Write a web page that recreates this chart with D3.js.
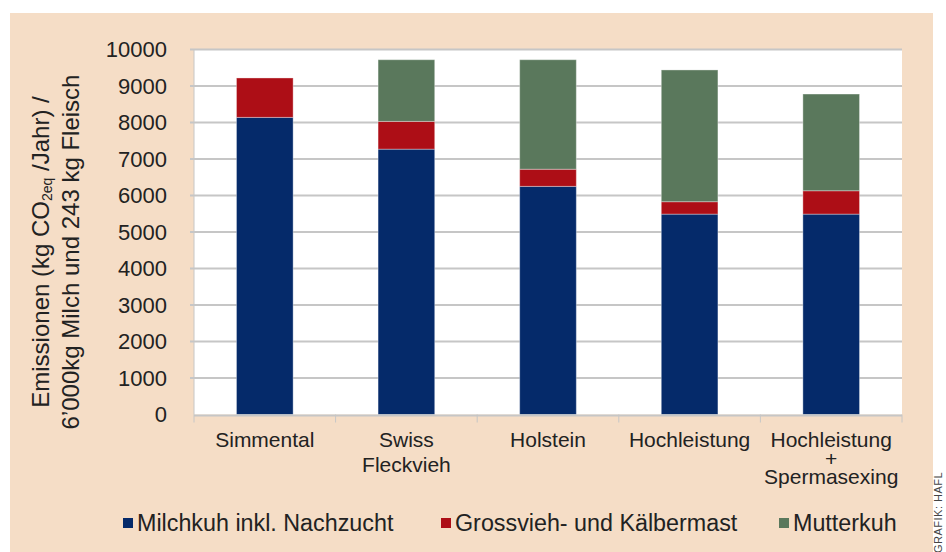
<!DOCTYPE html>
<html>
<head>
<meta charset="utf-8">
<script src="https://cdn.jsdelivr.net/npm/d3@7"></script>
<style>
  body { margin: 0; background: #fff; }
  svg { display: block; font-family: "Liberation Sans", Arial, sans-serif; }
</style>
</head>
<body>
<script>
// data
var categories = ["Simmental", "Swiss Fleckvieh", "Holstein", "Hochleistung", "Hochleistung + Spermasexing"];
var categoryLines = [["Simmental"], ["Swiss", "Fleckvieh"], ["Holstein"], ["Hochleistung"], ["Hochleistung", "+", "Spermasexing"]];
var seriesNames = ["Milchkuh inkl. Nachzucht", "Grossvieh- und Kälbermast", "Mutterkuh"];
var milchkuh = [8140, 7270, 6250, 5490, 5490];
var grossvieh = [1080, 760, 470, 340, 640];
var mutterkuh = [0, 1690, 3000, 3610, 2650];
var yTicks = [0, 1000, 2000, 3000, 4000, 5000, 6000, 7000, 8000, 9000, 10000];
var colors = ["#052a6a", "#ad0e16", "#5a785c"];

var W = 946, H = 552;
var plot = { left: 194, right: 902, top: 49.5, bottom: 414.5 };

var svg = d3.select("body").append("svg").attr("width", W).attr("height", H);

// beige panel + white plot area
svg.append("rect").attr("x", 10).attr("y", 13).attr("width", 923).attr("height", H - 13).attr("fill", "#f5ddc6");
svg.append("rect").attr("x", plot.left).attr("y", plot.top).attr("width", plot.right - plot.left)
  .attr("height", plot.bottom - plot.top).attr("fill", "#fff");

var x = d3.scaleBand().domain(categories).range([plot.left, plot.right]).paddingInner(0.6).paddingOuter(0.3);
var xOuter = d3.scaleBand().domain(categories).range([plot.left, plot.right]);
var y = d3.scaleLinear().domain([0, 10000]).range([plot.bottom, plot.top]);

// gridlines
svg.append("g").selectAll("line").data(yTicks.filter(function(d){ return d > 0; })).join("line")
  .attr("x1", plot.left - 4).attr("x2", plot.right)
  .attr("y1", function(d){ return y(d); }).attr("y2", function(d){ return y(d); })
  .attr("stroke", "#c6c6c6").attr("stroke-width", 2);

// y axis line
svg.append("line").attr("x1", plot.left).attr("x2", plot.left).attr("y1", plot.top).attr("y2", plot.bottom)
  .attr("stroke", "#c6c6c6").attr("stroke-width", 1);

// tick labels
svg.append("g").selectAll("text").data(yTicks).join("text")
  .attr("x", 167).attr("y", function(d){ return y(d); }).attr("dy", "0.36em")
  .attr("text-anchor", "end").attr("font-size", 22).attr("fill", "#222")
  .text(function(d){ return d; });

// stacked bars
var rows = categories.map(function(c, i){
  return { cat: c, m: milchkuh[i], g: grossvieh[i], k: mutterkuh[i] };
});
var stack = d3.stack().keys(["m", "g", "k"])(rows);

svg.append("g").selectAll("g").data(stack).join("g")
  .attr("fill", function(d, i){ return colors[i]; })
  .selectAll("rect").data(function(d){ return d.filter(function(p){ return p[1] > p[0]; }); }).join("rect")
  .attr("x", function(d){ return x(d.data.cat); })
  .attr("width", x.bandwidth())
  .attr("y", function(d){ return y(d[1]); })
  .attr("height", function(d){ return y(d[0]) - y(d[1]); })
  .attr("stroke", "rgba(255,255,255,0.35)").attr("stroke-width", 1);

// x axis with ticks between categories
svg.append("line").attr("x1", plot.left).attr("x2", plot.right).attr("y1", plot.bottom + 1).attr("y2", plot.bottom + 1)
  .attr("stroke", "#c6c6c6").attr("stroke-width", 2);
var bounds = categories.map(function(c){ return xOuter(c); }).concat([plot.right]);
svg.append("g").selectAll("line").data(bounds).join("line")
  .attr("x1", function(d){ return d; }).attr("x2", function(d){ return d; })
  .attr("y1", plot.bottom).attr("y2", plot.bottom + 8)
  .attr("stroke", "#c6c6c6").attr("stroke-width", 1);

// category labels
var lab = svg.append("g").selectAll("text").data(categories).join("text")
  .attr("text-anchor", "middle").attr("font-size", 21).attr("fill", "#222")
  .attr("transform", function(c){ return "translate(" + (x(c) + x.bandwidth() / 2) + ",447)"; });
lab.selectAll("tspan").data(function(c, i){
    var lines = categoryLines[i];
    var step = lines.length > 2 ? 18.5 : 25;
    return lines.map(function(t, j){ return { t: t, dy: j * step }; });
  }).join("tspan")
  .attr("x", 0).attr("y", function(d){ return d.dy; })
  .text(function(d){ return d.t; });

// y axis title
var title = svg.append("text").attr("transform", "translate(49,252) rotate(-90)")
  .attr("text-anchor", "middle").attr("font-size", 24).attr("fill", "#222");
title.append("tspan").text("Emissionen (kg CO");
title.append("tspan").attr("font-size", 14).attr("dy", 3).text("2eq");
title.append("tspan").attr("dy", -3).text(" /Jahr) /");
svg.append("text").attr("transform", "translate(79,252) rotate(-90)")
  .attr("text-anchor", "middle").attr("font-size", 24).attr("fill", "#222")
  .text("6’000kg Milch und 243 kg Fleisch");

// legend
var legendX = [123, 441, 779];
var leg = svg.append("g").selectAll("g").data(seriesNames).join("g")
  .attr("transform", function(d, i){ return "translate(" + legendX[i] + ",523)"; });
leg.append("rect").attr("x", 0).attr("y", -5).attr("width", 10).attr("height", 10)
  .attr("fill", function(d, i){ return colors[i]; });
leg.append("text").attr("x", 14).attr("dy", "0.36em").attr("font-size", 23.3).attr("fill", "#222")
  .text(function(d){ return d; });

// credit
svg.append("text").attr("transform", "translate(942,553) rotate(-90)")
  .attr("font-size", 11).attr("fill", "#444").attr("letter-spacing", 0.5)
  .text("GRAFIK: HAFL");
</script>
</body>
</html>
